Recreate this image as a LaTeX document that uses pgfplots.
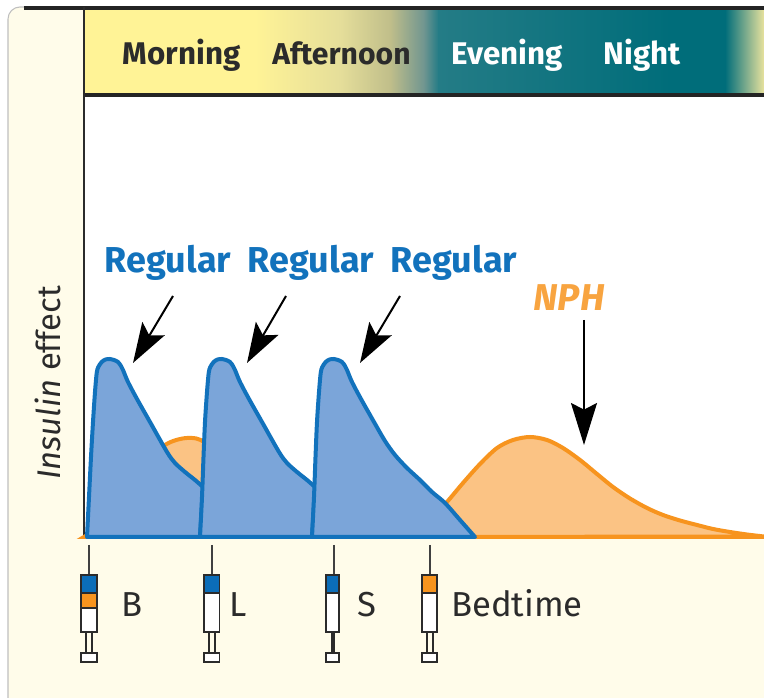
\documentclass[border=0pt]{standalone}
\usepackage{fontspec}
\setmainfont{Fira Sans}
\usepackage{pgfplots}
\pgfplotsset{compat=1.18}
\usetikzlibrary{arrows.meta}
\definecolor{cream}{HTML}{FFFCEA}
\definecolor{band}{HTML}{FFF396}
\definecolor{bandA}{HTML}{E5DE9A}
\definecolor{bandB}{HTML}{C0BE8A}
\definecolor{bandC}{HTML}{6F9590}
\definecolor{bandD}{HTML}{E8E29D}
\definecolor{teal1}{HTML}{247C86}
\definecolor{teal2}{HTML}{006D7A}
\definecolor{regl}{HTML}{1272BC}
\definecolor{regf}{HTML}{7BA5D9}
\definecolor{nphl}{HTML}{F7941E}
\definecolor{nphf}{HTML}{FBC384}
\definecolor{txt}{HTML}{2B2B2B}
\definecolor{syrb}{HTML}{0B6DB8}
\definecolor{syro}{HTML}{F7941E}
\pgfplotstableread{
x y
84 0
110 20
140 68
165 92
187 99
205 94
230 60
255 12
270 0
}\nphA
\pgfplotstableread{
x y
417 0
430 16
447 35
463 54
480 73
497 89
513 97
530 100
547 97
563 89
580 77
597 63
613 50
630 38.5
647 29
663 22
680 16.5
697 12
713 8
730 5
747 2.5
764 0.5
}\nphB
\pgfplotstableread{
x y
87 0
89 40
91 80
93 115
95 145
96.7 164
98.3 170
101.7 175
105.5 177.5
110 178
114 177
118 175
121 171
123 167
128 155
137 138
150 115
167 85
175 74
185 65
195 57
203 50
}\regA
\pgfplotstableread{
x y
200 0
202 40
203.5 80
205 115
207 145
208.7 164
210.3 170
213.7 175
217.5 177.5
222 178
226 177
230 175
233 171
235 167
240 155
249 138
262 115
279 85
287 74
297 65
307 57
315 50
}\regB
\pgfplotstableread{
x y
312 0
314 40
315.5 80
317 115
319 145
320.7 164
322.3 170
325.7 175
329.5 177.5
334 178
338 177
342 175
345 171
347 167
352 155
361 138
374 115
385 96
395 82
407 69
420 57
432 45
445 34
460 17
475 0
}\regC
\newcommand{\syr}[7]{% needle x, barrel l, barrel r, blue bottom, orange bottom, rod thick?
  \draw[line width=1.1pt,txt!90] (axis cs:#1,-8) -- (axis cs:#1,-38);
  \fill[white] (axis cs:#2,-38) rectangle (axis cs:#3,-95);
  \ifx#6n\else\fill[syrb] (axis cs:#2,-38) rectangle (axis cs:#3,#4);\fi
  \ifx#7n\else\fill[syro] (axis cs:#2,#5) rectangle (axis cs:#3,#4);\fi
  \draw[line width=1.3pt,txt,fill=none] (axis cs:#2,-38) rectangle (axis cs:#3,-95);
  \draw[line width=1.1pt,txt] (axis cs:#2,#4) -- (axis cs:#3,#4);
  \ifx#7n\else\draw[line width=1.1pt,txt] (axis cs:#2,#5) -- (axis cs:#3,#5);\fi
  \draw[line width=1.1pt,txt,fill=white] (axis cs:#2,-116) rectangle (axis cs:#3,-125);
}
\begin{document}
\begin{tikzpicture}
\begin{axis}[
  scale only axis, width=573pt, height=523.5pt,
  xmin=0, xmax=764, ymin=-161, ymax=537,
  hide axis, clip=true]
% panel
\fill[white] (axis cs:0,-161) rectangle (axis cs:764,537);
\draw[line width=0.8pt,black!25,fill=cream,rounded corners=9pt] (axis cs:8,-175) -- (axis cs:8,530) -- (axis cs:800,530) -- (axis cs:800,-175) -- cycle;
% band
\fill[band] (axis cs:84,529) rectangle (axis cs:255,443);
\shade[left color=band,right color=bandA] (axis cs:255,529) rectangle (axis cs:340.5,443);
\shade[left color=bandA,right color=bandB] (axis cs:340,529) rectangle (axis cs:390.5,443);
\shade[left color=bandB,right color=bandC] (axis cs:390,529) rectangle (axis cs:424.5,443);
\shade[left color=bandC,right color=teal1] (axis cs:424,529) rectangle (axis cs:438.5,443);
\shade[left color=teal1,right color=teal2] (axis cs:438,529) rectangle (axis cs:670.5,443);
\fill[teal2] (axis cs:670,529) rectangle (axis cs:725.5,443);
\shade[left color=teal2,right color=bandD] (axis cs:725,529) rectangle (axis cs:764,443);
% plot area
\fill[white] (axis cs:84,441) rectangle (axis cs:764,0);
\draw[line width=2.4pt,txt!85!black] (axis cs:24,529) -- (axis cs:764,529);
\draw[line width=2.4pt,txt!85!black] (axis cs:84,442) -- (axis cs:764,442);
\draw[line width=0.9pt,txt] (axis cs:84,530) -- (axis cs:84,0);
% curves
\addplot[draw=nphl,fill=nphf,line width=3pt,smooth] table[x=x,y=y]{\nphA} -- cycle;
\addplot[draw=nphl,fill=nphf,line width=3pt,smooth] table[x=x,y=y]{\nphB} -- cycle;
\addplot[draw=nphl,line width=3pt] coordinates {(84,0) (764,0)};
\addplot[draw=regl,fill=regf,line width=3pt,line join=round,smooth] table[x=x,y=y]{\regA} -- (axis cs:200,0) -- cycle;
\addplot[draw=regl,fill=regf,line width=3pt,line join=round,smooth] table[x=x,y=y]{\regB} -- (axis cs:312,0) -- cycle;
\addplot[draw=regl,fill=regf,line width=3pt,line join=round,smooth] table[x=x,y=y]{\regC} -- cycle;
% arrows
\foreach \a/\b in {173/133,286/247,400/360}{
  \edef\tmp{\noexpand\draw[line width=1.5pt,black,-{Stealth[length=30pt,width=19.5pt,inset=6pt]}] (axis cs:\a,241) -- (axis cs:\b,174);}\tmp
}
\draw[line width=1.5pt,black,-{Stealth[length=31.5pt,width=19.5pt,inset=5pt]}] (axis cs:584,217) -- (axis cs:584,92);
% syringes
\syr{89}{81}{97}{-56}{-71}{y}{y}
\syr{212}{204}{219.5}{-56}{-56}{y}{n}
\syr{334}{326}{339}{-56}{-56}{y}{n}
\syr{430}{422}{437}{-38}{-56}{n}{y}
\draw[line width=0.9pt,txt] (axis cs:86,-95) -- (axis cs:86,-116) (axis cs:92,-95) -- (axis cs:92,-116);
\draw[line width=0.9pt,txt] (axis cs:209,-95) -- (axis cs:209,-116) (axis cs:215,-95) -- (axis cs:215,-116);
\draw[line width=2.4pt,txt] (axis cs:333,-95) -- (axis cs:333,-116);
\draw[line width=0.9pt,txt] (axis cs:427,-95) -- (axis cs:427,-116) (axis cs:433,-95) -- (axis cs:433,-116);
% labels
\node[anchor=base,font=\fontsize{23.5}{24}\selectfont\bfseries,text=txt] at (axis cs:181.5,472) {Morning};
\node[anchor=base,font=\fontsize{22.6}{24}\selectfont\bfseries,text=txt] at (axis cs:341.5,472) {Afternoon};
\node[anchor=base,font=\fontsize{23.5}{24}\selectfont\bfseries,text=white] at (axis cs:507.5,472) {Evening};
\node[anchor=base,font=\fontsize{23.5}{24}\selectfont\bfseries,text=white] at (axis cs:642,472) {Night};
\foreach \c in {168,311,454}{
  \edef\tmp{\noexpand\node[anchor=base,font=\noexpand\fontsize{27}{28}\noexpand\selectfont\noexpand\bfseries,text=regl] at (axis cs:\c,264.5) {Regular};}\tmp
}
\node[anchor=base,font=\fontsize{28}{28}\selectfont\bfseries\itshape,text=nphl!85!white] at (axis cs:569,226) {NPH};
\node[rotate=90,anchor=center,font=\fontsize{24.6}{24}\selectfont,text=txt] at (axis cs:48,154) {\textit{Insulin} effect};
\node[anchor=base,font=\fontsize{26}{28}\selectfont,text=txt] at (axis cs:132,-80) {B};
\node[anchor=base,font=\fontsize{26}{28}\selectfont,text=txt] at (axis cs:238.5,-80) {L};
\node[anchor=base,font=\fontsize{26}{28}\selectfont,text=txt] at (axis cs:366.5,-80) {S};
\node[anchor=base,font=\fontsize{26}{28}\selectfont,text=txt] at (axis cs:517,-80) {Bedtime};
\end{axis}
\end{tikzpicture}
\end{document}
